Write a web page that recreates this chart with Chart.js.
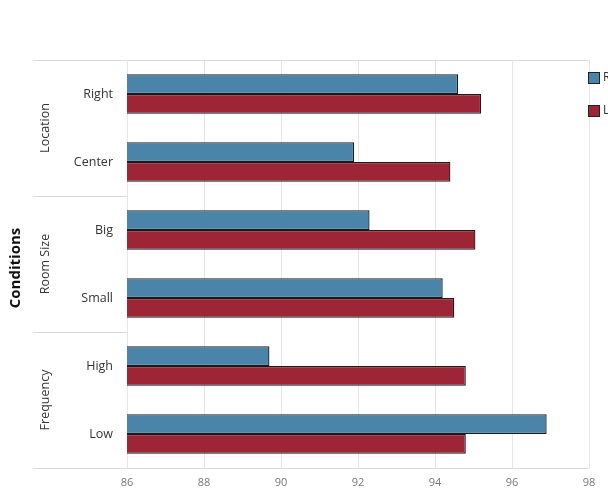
<!DOCTYPE html>
<html>
<head>
<meta charset="utf-8">
<script src="https://cdn.jsdelivr.net/npm/chart.js@4.4.1/dist/chart.umd.min.js"></script>
<style>
  html, body { margin: 0; padding: 0; background: #fff; overflow: hidden; }
  #wrap { position: relative; width: 640px; height: 497px; }
</style>
</head>
<body>
<div id="wrap"><canvas id="chart" width="640" height="497"></canvas></div>
<script>
// data
const conditions = ['Right', 'Center', 'Big', 'Small', 'High', 'Low'];
const groups = ['Location', 'Room Size', 'Frequency'];
const groupSizes = [2, 2, 2];
const seriesNames = ['Real', 'Lab'];
const blueValues = [94.6, 91.9, 92.3, 94.2, 89.7, 96.9];
const redValues = [95.2, 94.4, 95.05, 94.5, 94.8, 94.8];
const xTicks = [86, 88, 90, 92, 94, 96, 98];

const BLUE = '#4a84a8';
const RED = '#9d2536';
const LINE = '#dcdcdc';
const FONT = "'Open Sans', 'DejaVu Sans', sans-serif";

// group labels, separators and the clipped legend
const sidePlugin = {
  id: 'side',
  afterDraw(chart) {
    const ctx = chart.ctx;
    const area = chart.chartArea;
    const leftX = 33;
    ctx.save();
    ctx.strokeStyle = LINE;
    ctx.lineWidth = 1;
    // top and bottom rules
    [area.top, area.bottom].forEach(py => {
      ctx.beginPath();
      ctx.moveTo(leftX, Math.round(py) + 0.5);
      ctx.lineTo(area.right, Math.round(py) + 0.5);
      ctx.stroke();
    });
    const step = (area.bottom - area.top) / conditions.length;
    let idx = 0;
    groups.forEach((g, i) => {
      const top = area.top + idx * step;
      idx += groupSizes[i];
      const bottom = area.top + idx * step;
      if (i < groups.length - 1) {
        ctx.beginPath();
        ctx.moveTo(leftX, Math.round(bottom) + 0.5);
        ctx.lineTo(area.left, Math.round(bottom) + 0.5);
        ctx.stroke();
      }
      ctx.save();
      ctx.translate(45, (top + bottom) / 2);
      ctx.rotate(-Math.PI / 2);
      ctx.fillStyle = '#333';
      ctx.font = '12.5px ' + FONT;
      ctx.textAlign = 'center';
      ctx.textBaseline = 'middle';
      ctx.fillText(g, 0, 0);
      ctx.restore();
    });
    // axis title
    ctx.save();
    ctx.translate(16, (area.top + area.bottom) / 2 + 4);
    ctx.rotate(-Math.PI / 2);
    ctx.fillStyle = '#111';
    ctx.font = 'bold 15px ' + FONT;
    ctx.textAlign = 'center';
    ctx.textBaseline = 'middle';
    ctx.fillText('Conditions', 0, 0);
    ctx.restore();
    // legend
    chart.data.datasets.forEach((ds, i) => {
      const by = 72 + i * 33;
      ctx.fillStyle = ds.backgroundColor;
      ctx.fillRect(588, by, 11, 11);
      ctx.strokeStyle = '#222';
      ctx.strokeRect(588.5, by + 0.5, 11, 11);
      ctx.fillStyle = '#333';
      ctx.font = '12px ' + FONT;
      ctx.textBaseline = 'middle';
      ctx.fillText(ds.label, 603, by + 6);
    });
    ctx.restore();
  }
};

new Chart(document.getElementById('chart'), {
  type: 'bar',
  data: {
    labels: conditions,
    datasets: [
      { label: seriesNames[0], data: blueValues, backgroundColor: BLUE, borderColor: '#1a1a1a', borderWidth: 1.3, borderSkipped: false },
      { label: seriesNames[1], data: redValues, backgroundColor: RED, borderColor: '#1a1a1a', borderWidth: 1.3, borderSkipped: false }
    ]
  },
  options: {
    indexAxis: 'y',
    responsive: false,
    animation: false,
    layout: { padding: { top: 60, right: 51, left: 0, bottom: 0 } },
    datasets: { bar: { categoryPercentage: 0.58, barPercentage: 1 } },
    plugins: { legend: { display: false }, tooltip: { enabled: false } },
    scales: {
      x: {
        min: 86, max: 98,
        afterBuildTicks: s => { s.ticks = xTicks.map(v => ({ value: v })); },
        grid: { color: '#e6e6e6', drawTicks: false },
        border: { display: false },
        ticks: { color: '#777', font: { family: FONT, size: 11 }, padding: 8 },
        afterFit: s => { s.height = 29; }
      },
      y: {
        grid: { display: false, drawTicks: false },
        border: { display: false },
        ticks: { color: '#333', font: { family: FONT, size: 12.5 }, padding: 14 },
        afterFit: s => { s.width = 127; }
      }
    }
  },
  plugins: [sidePlugin]
});
</script>
</body>
</html>
